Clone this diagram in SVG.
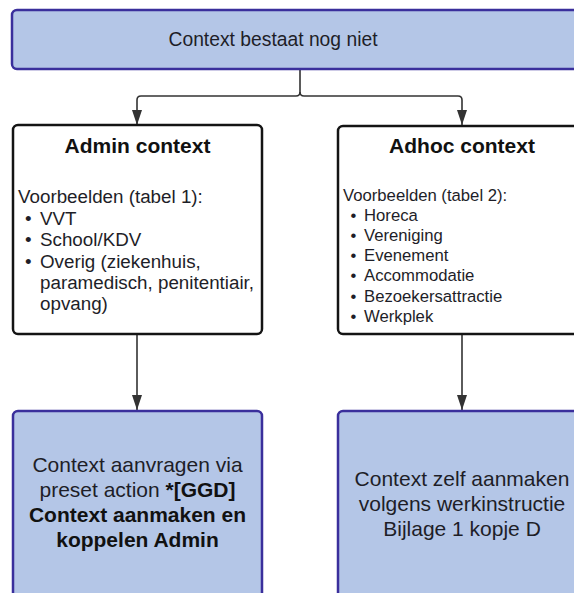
<svg xmlns="http://www.w3.org/2000/svg" width="574" height="593" viewBox="0 0 574 593">
<style>
  .blue { fill: #b4c6e7; stroke: #3a2f9c; stroke-width: 2.5; }
  .white { fill: #ffffff; stroke: #141414; stroke-width: 2.5; }
  .conn { fill: none; stroke: #333333; stroke-width: 1.6; }
  text { font-family: "Liberation Sans", Arial, sans-serif; fill: #1e1e28; }
  .title { font-weight: bold; font-size: 21px; text-anchor: middle; fill: #111; }
  .big { font-size: 21px; text-anchor: middle; }
  .bold { font-weight: bold; fill: #111; }
  .l1 { font-size: 18.8px; }
  .l2 { font-size: 16.7px; }
</style>
<defs>
  <marker id="arr" viewBox="0 0 15 10" refX="15" refY="5" markerWidth="15" markerHeight="10" markerUnits="userSpaceOnUse" orient="auto">
    <path d="M0,0 L15,5 L0,10 z" fill="#333333"/>
  </marker>
</defs>
<rect width="574" height="593" fill="#ffffff"/>

<g id="connectors">
  <path class="conn" d="M300,69 V92 Q300,96 296,96 H141 Q137,96 137,100 V125" marker-end="url(#arr)"/>
  <path class="conn" d="M300,92 Q300,96 304,96 H458 Q462,96 462,100 V125" marker-end="url(#arr)"/>
  <path class="conn" d="M137,334 V410" marker-end="url(#arr)"/>
  <path class="conn" d="M462,334 V410" marker-end="url(#arr)"/>
</g>

<g id="node-start">
  <rect class="blue" x="12" y="10" width="600" height="59" rx="5"/>
  <text class="big" x="273" y="46" style="font-size:19.3px">Context bestaat nog niet</text>
</g>

<g id="node-admin">
  <rect class="white" x="13" y="125" width="249" height="209" rx="5"/>
  <text class="title" x="137.5" y="153">Admin context</text>
  <text class="l1" x="18" y="203">Voorbeelden (tabel 1):</text>
  <text class="l1" x="25" y="225">•</text><text class="l1" x="40" y="225">VVT</text>
  <text class="l1" x="25" y="246">•</text><text class="l1" x="40" y="246">School/KDV</text>
  <text class="l1" x="25" y="268">•</text><text class="l1" x="40" y="268">Overig (ziekenhuis,</text>
  <text class="l1" x="40" y="289">paramedisch, penitentiair,</text>
  <text class="l1" x="40" y="310">opvang)</text>
</g>

<g id="node-adhoc">
  <rect class="white" x="338" y="126" width="280" height="208" rx="5"/>
  <text class="title" x="462" y="153">Adhoc context</text>
  <text class="l2" x="343" y="201">Voorbeelden (tabel 2):</text>
  <text class="l2" x="350.5" y="221">•</text><text class="l2" x="364" y="221">Horeca</text>
  <text class="l2" x="350.5" y="241">•</text><text class="l2" x="364" y="241">Vereniging</text>
  <text class="l2" x="350.5" y="261">•</text><text class="l2" x="364" y="261">Evenement</text>
  <text class="l2" x="350.5" y="281">•</text><text class="l2" x="364" y="281">Accommodatie</text>
  <text class="l2" x="350.5" y="302">•</text><text class="l2" x="364" y="302">Bezoekersattractie</text>
  <text class="l2" x="350.5" y="322">•</text><text class="l2" x="364" y="322">Werkplek</text>
</g>

<g id="node-admin-action">
  <rect class="blue" x="13" y="411" width="249" height="200" rx="5"/>
  <text class="big" x="137.5" y="472">Context aanvragen via</text>
  <text class="big" x="137.5" y="497">preset action <tspan class="bold">*[GGD]</tspan></text>
  <text class="big bold" x="137.5" y="522">Context aanmaken en</text>
  <text class="big bold" x="137.5" y="547">koppelen Admin</text>
</g>

<g id="node-adhoc-action">
  <rect class="blue" x="338" y="411" width="280" height="200" rx="5"/>
  <text class="big" x="462" y="486">Context zelf aanmaken</text>
  <text class="big" x="462" y="511">volgens werkinstructie</text>
  <text class="big" x="462" y="536">Bijlage 1 kopje D</text>
</g>
</svg>
